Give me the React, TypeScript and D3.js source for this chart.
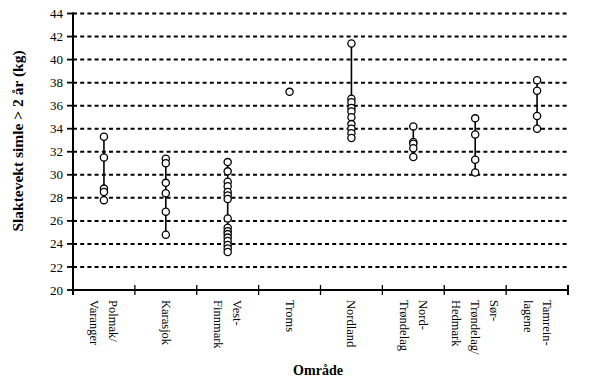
import React from "react";
import * as d3 from "d3";

const categories: string[][] = [
  ["Polmak/", "Varanger"],
  ["Karasjok"],
  ["Vest-", "Finnmark"],
  ["Troms"],
  ["Nordland"],
  ["Nord-", "Trøndelag"],
  ["Sør-", "Trøndelag/", "Hedmark"],
  ["Tamrein-", "lagene"],
];

const polmak = [33.3, 31.5, 28.8, 28.5, 27.8];
const karasjok = [31.4, 31.0, 29.3, 28.4, 26.8, 24.8];
const vestFinnmark = [31.1, 30.3, 29.4, 29.0, 28.5, 28.2, 27.9, 26.2, 25.4, 25.1, 24.85, 24.55, 24.25, 23.9, 23.6, 23.3];
const troms = [37.2];
const nordland = [41.4, 36.6, 36.3, 35.8, 35.5, 35.0, 34.4, 34.0, 33.6, 33.2];
const nordTrondelag = [34.2, 32.85, 32.7, 32.3, 31.55];
const sorTrondelag = [34.9, 33.5, 31.3, 30.2];
const tamrein = [38.2, 37.3, 35.1, 34.0];

const seriesValues = [polmak, karasjok, vestFinnmark, troms, nordland, nordTrondelag, sorTrondelag, tamrein];

const yTicks = [20, 22, 24, 26, 28, 30, 32, 34, 36, 38, 40, 42, 44];

const yTitle = "Slaktevekt simle > 2 år (kg)";
const xTitle = "Område";

export default function App() {
  const W = 600, H = 381;
  const left = 73, right = 568, top = 13.5, bottom = 290;
  const idx = categories.map((_, i) => i);
  const x = d3.scaleBand<number>().domain(idx).range([left, right]);
  const y = d3.scaleLinear().domain([20, 44]).range([bottom, top]);
  const font = "'Liberation Serif', 'Times New Roman', serif";
  const bounds = [...idx.map((i) => x(i)!), right];

  return (
    <div style={{ position: "absolute", left: 0, top: 0 }}>
      <svg width={W} height={H} style={{ display: "block", background: "#fff" }}>
        {/* gridlines */}
        {yTicks.filter((t) => t > 20).map((t) => (
          <line key={"g" + t} x1={left} x2={right} y1={y(t)} y2={y(t)}
            stroke="#000" strokeWidth={2} strokeDasharray="4 3.2" />
        ))}
        {/* y axis */}
        <line x1={left} x2={left} y1={top - 1} y2={bottom + 1} stroke="#000" strokeWidth={2} />
        {yTicks.map((t) => (
          <g key={"t" + t}>
            <line x1={left - 6} x2={left} y1={y(t)} y2={y(t)} stroke="#000" strokeWidth={1.8} />
            <text x={63} y={y(t)} dy="0.35em" textAnchor="end" fontFamily={font} fontSize={13}>{t}</text>
          </g>
        ))}
        {/* x axis */}
        <line x1={left} x2={right} y1={bottom} y2={bottom} stroke="#000" strokeWidth={2} />
        {bounds.map((b, i) => (
          <line key={"xt" + i} x1={b} x2={b} y1={bottom - 5} y2={bottom + 5} stroke="#000" strokeWidth={i === 0 || i === bounds.length - 1 ? 2 : 1.3} />
        ))}
        {/* category labels */}
        {categories.map((lines, i) => {
          const cx = x(i)! + x.bandwidth() / 2;
          const lh = 19;
          const n = lines.length;
          const bx = cx - 4 + ((n - 1) * lh) / 2;
          return (
            <text key={"c" + i} transform={`translate(${bx},300) rotate(90)`} fontFamily={font} fontSize={12.5}>
              {lines.map((l, j) => (
                <tspan key={j} x={0} y={j * lh}>{l}</tspan>
              ))}
            </text>
          );
        })}
        {/* ranges and points */}
        {seriesValues.map((vals, i) => {
          const cx = x(i)! + x.bandwidth() / 2;
          const ext = d3.extent(vals) as [number, number];
          return (
            <g key={"s" + i}>
              {vals.length > 1 && (
                <line x1={cx} x2={cx} y1={y(ext[1])} y2={y(ext[0])} stroke="#000" strokeWidth={1.6} />
              )}
              {vals.map((v, j) => (
                <circle key={j} cx={cx} cy={y(v)} r={3.6} fill="#fff" stroke="#000" strokeWidth={1.3} />
              ))}
            </g>
          );
        })}
        {/* titles */}
        <text transform={`translate(23,141) rotate(-90)`} textAnchor="middle"
          fontFamily={font} fontSize={15.5} fontWeight="bold">{yTitle}</text>
        <text x={318} y={375} textAnchor="middle" fontFamily={font} fontSize={14} fontWeight="bold">{xTitle}</text>
      </svg>
    </div>
  );
}
